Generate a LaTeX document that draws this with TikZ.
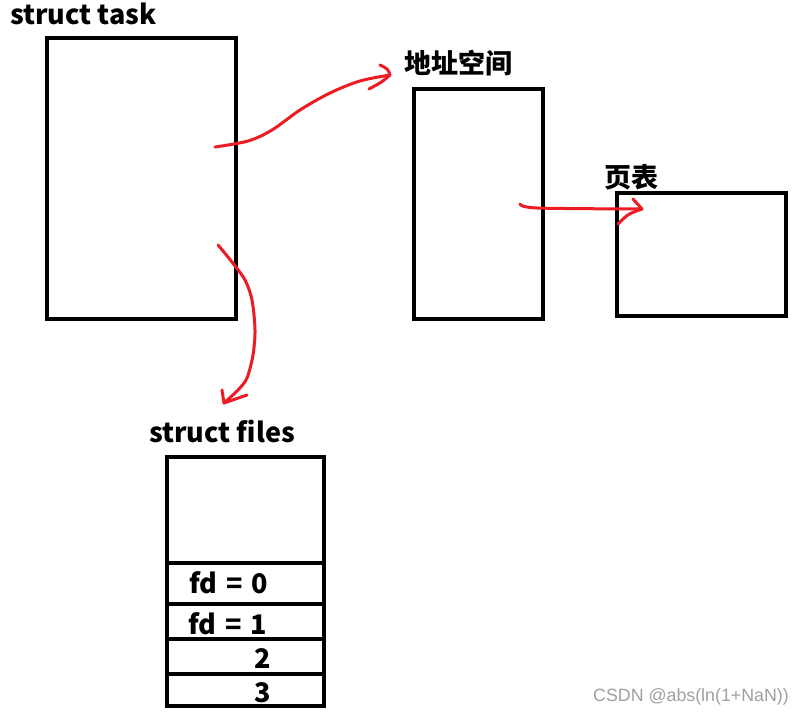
\documentclass[tikz,border=0pt]{standalone}
\usepackage{fontspec}
\setmainfont{Noto Sans CJK SC}
\newfontfamily\wmfont{Liberation Sans}
\definecolor{arrowred}{RGB}{237,28,36}
\definecolor{wm}{RGB}{160,160,160}
\begin{document}
\begin{tikzpicture}[x=1pt,y=-1pt,
  box/.style={draw,line width=4pt,inner sep=0pt,outer sep=0pt,anchor=north west},
  lbl/.style={font=\bfseries\fontsize{27}{30}\selectfont,inner sep=0pt,anchor=west},
  redline/.style={draw=arrowred,line width=3pt,line cap=round,line join=round},
  divider/.style={line width=4pt}]
\useasboundingbox (0,0) rectangle (804,718);
\fill[white] (0,0) rectangle (804,718);
% boxes
\node[box,minimum width=189pt,minimum height=281pt] (task) at (47,38) {};
\node[box,minimum width=129pt,minimum height=230pt] (mm) at (414,89) {};
\node[box,minimum width=169pt,minimum height=123pt] (pt) at (617,193) {};
\node[box,minimum width=157pt,minimum height=249pt] (files) at (167,457) {};
\draw[divider] (167,563) -- (326,563);
\draw[divider] (167,604) -- (324,604);
\draw[divider] (167,639) -- (326,639);
\draw[divider] (167,674) -- (324,674);
% labels
\node[lbl] (ltask) at (10,14) {struct task};
\node[lbl] (lmm) at (404,63) {地址空间};
\node[lbl] (lpt) at (604,177) {页表};
\node[lbl] (lfiles) at (149,431) {struct files};
\node[lbl] (fd0) at (189,583) {fd\hspace{0.32em}=\hspace{0.32em}0};
\node[lbl] (fd1) at (188,624) {fd\hspace{0.32em}=\hspace{0.32em}1};
\node[lbl] (n2) at (254,659) {2};
\node[lbl] (n3) at (254,693) {3};
\node[font=\wmfont\fontsize{17.8}{20}\selectfont,text=wm,inner sep=0pt,anchor=west] (wmk) at (593,697) {CSDN @abs(ln(1+NaN))};
% arrows
\coordinate (a1s) at (215,147);
\coordinate (a1e) at (390,75);
\coordinate (a2s) at (218,245);
\coordinate (a2e) at (224,403);
\coordinate (a3s) at (520,204);
\coordinate (a3e) at (642,209);
\draw[redline] plot[smooth,tension=0.55] coordinates {(a1s) (248,141) (272,130) (300,110) (330,93) (360,81) (a1e)};
\draw[redline] (380,65) .. controls (388,69) .. (a1e) .. controls (382,82) .. (369,89);
\draw[redline] plot[smooth,tension=0.5] coordinates {(a2s) (232,262) (245,280) (252,300) (255,330) (253,355) (247,378) (238,390) (a2e)};
\draw[redline] (222,390) -- (a2e) -- (247,395);
\draw[redline] plot[smooth,tension=0.5] coordinates {(a3s) (537,208) (a3e)};
\draw[redline] (633,199) -- (a3e) .. controls (628,214) .. (618,224);
\end{tikzpicture}
\end{document}
